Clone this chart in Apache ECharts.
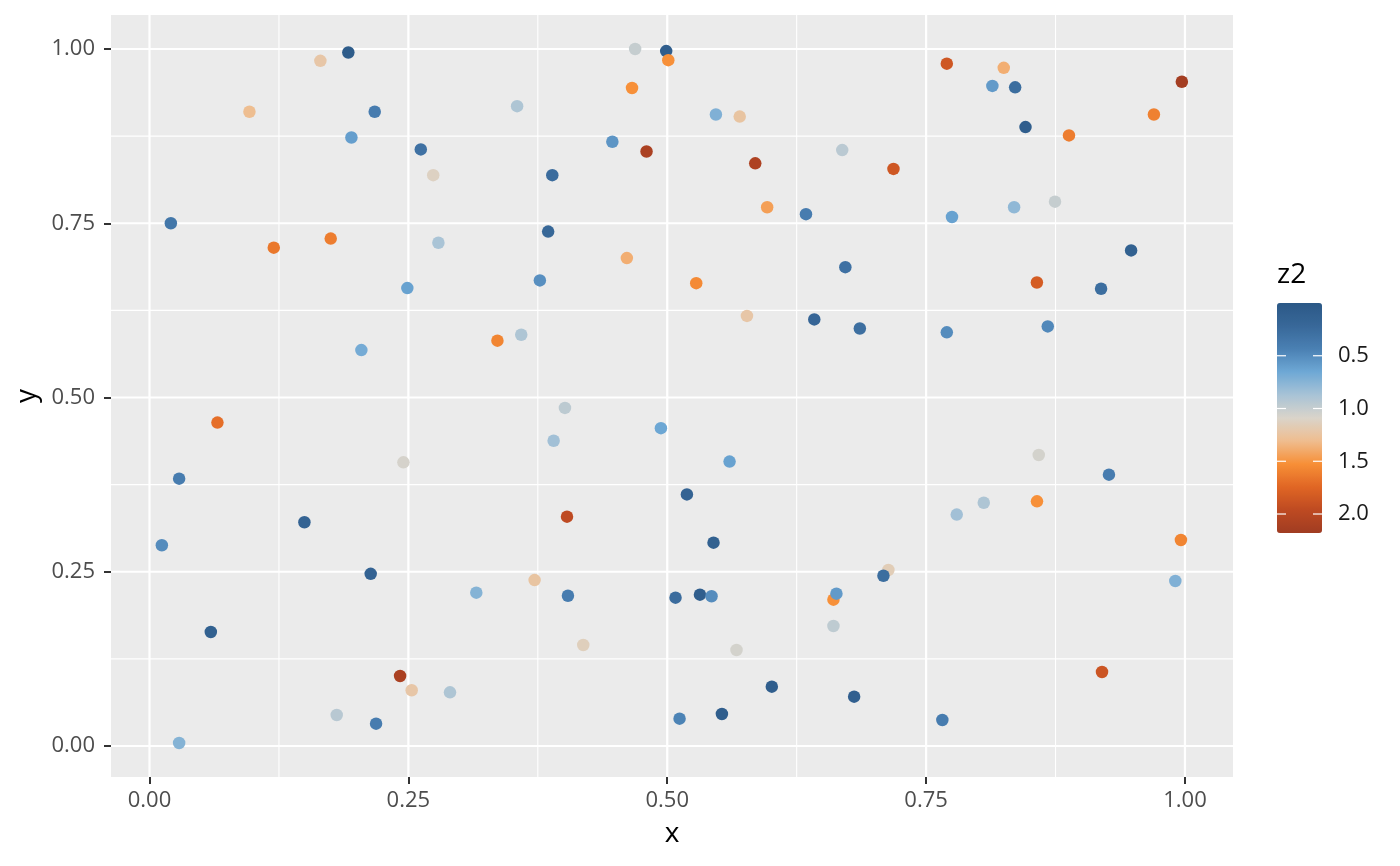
<!DOCTYPE html>
<html>
<head>
<meta charset="utf-8">
<title>z2 scatter</title>
<script src="https://cdn.jsdelivr.net/npm/echarts@6/dist/echarts.min.js"></script>
<style>
  html, body { margin: 0; padding: 0; background: #fff; }
  #chart { width: 1400px; height: 866px; }
</style>
</head>
<body>
<div id="chart"></div>
<script>
// 数据：x, y, z2
const xs = [0.192, 0.165, 0.0965, 0.2175, 0.195, 0.262, 0.274, 0.0206, 0.120, 0.175, 0.279, 0.249, 0.2046,
  0.469, 0.499, 0.501, 0.466, 0.355, 0.547, 0.570, 0.447, 0.480, 0.669, 0.585, 0.389, 0.5965, 0.634, 0.385, 0.461, 0.377, 0.528, 0.672, 0.577, 0.642, 0.686, 0.336, 0.359,
  0.770, 0.825, 0.814, 0.836, 0.997, 0.970, 0.846, 0.888, 0.7185, 0.775, 0.835, 0.8745, 0.948, 0.857, 0.919, 0.770, 0.8675,
  0.0656, 0.2452, 0.0286, 0.1496, 0.0119, 0.2136, 0.3156, 0.0592, 0.242, 0.2532, 0.2902, 0.1808, 0.2188, 0.0286,
  0.4012, 0.3903, 0.4939, 0.5602, 0.519, 0.4032, 0.5447, 0.3719, 0.4041, 0.508, 0.5316, 0.5428, 0.6605, 0.6634, 0.6605, 0.4189, 0.5669, 0.601, 0.6805, 0.5119, 0.5528,
  0.8588, 0.9266, 0.8057, 0.7796, 0.8571, 0.9961, 0.9907, 0.7136, 0.7088, 0.9199, 0.7657];
const ys = [0.995, 0.983, 0.910, 0.910, 0.873, 0.856, 0.819, 0.750, 0.715, 0.728, 0.722, 0.657, 0.568,
  1.000, 0.997, 0.984, 0.944, 0.918, 0.906, 0.903, 0.867, 0.853, 0.855, 0.836, 0.819, 0.773, 0.763, 0.738, 0.700, 0.668, 0.664, 0.687, 0.617, 0.612, 0.599, 0.5815, 0.590,
  0.979, 0.973, 0.947, 0.945, 0.953, 0.906, 0.888, 0.876, 0.828, 0.759, 0.773, 0.781, 0.711, 0.665, 0.656, 0.5935, 0.602,
  0.464, 0.407, 0.3835, 0.321, 0.288, 0.247, 0.220, 0.1636, 0.1004, 0.080, 0.077, 0.0445, 0.032, 0.0043,
  0.485, 0.438, 0.456, 0.408, 0.361, 0.329, 0.2917, 0.238, 0.2156, 0.2128, 0.2171, 0.2148, 0.2099, 0.2185, 0.1722, 0.1449, 0.1377, 0.0851, 0.0708, 0.0392, 0.0459,
  0.4175, 0.3893, 0.349, 0.332, 0.351, 0.2956, 0.2367, 0.2525, 0.2443, 0.1062, 0.0373];
const z2 = [0.05, 1.22, 1.3, 0.4, 0.6, 0.3, 1.12, 0.35, 1.65, 1.62, 0.88, 0.62, 0.68,
  1.0, 0.08, 1.52, 1.52, 0.9, 0.72, 1.24, 0.55, 2.1, 0.95, 2.08, 0.25, 1.45, 0.4, 0.2, 1.38, 0.52, 1.55, 0.3, 1.22, 0.18, 0.28, 1.58, 0.9,
  1.86, 1.38, 0.58, 0.27, 2.15, 1.6, 0.08, 1.62, 1.86, 0.62, 0.78, 1.0, 0.12, 1.82, 0.27, 0.5, 0.48,
  1.7, 1.07, 0.4, 0.15, 0.5, 0.15, 0.74, 0.12, 2.1, 1.22, 0.9, 0.94, 0.4, 0.74,
  0.96, 0.85, 0.65, 0.62, 0.15, 1.96, 0.12, 1.24, 0.4, 0.25, 0.08, 0.5, 1.52, 0.58, 0.97, 1.14, 1.06, 0.08, 0.1, 0.45, 0.08,
  1.06, 0.4, 0.9, 0.85, 1.52, 1.58, 0.72, 1.16, 0.27, 1.88, 0.4];

// 坐标轴刻度
const xBreaks = [0, 0.25, 0.5, 0.75, 1];
const yBreaks = [0, 0.25, 0.5, 0.75, 1];
const xMinor = [0.125, 0.375, 0.625, 0.875];
const yMinor = [0.125, 0.375, 0.625, 0.875];
const xLim = [-0.0372, 1.0464];
const yLim = [-0.0445, 1.0488];

// 图例色带
const zLim = [0, 2.18];
const zBreaks = [0.5, 1.0, 1.5, 2.0];
const zColors = ['#2b5886', '#386899', '#4a80b3', '#6ea8d5', '#a8c3d6', '#dad4ca',
  '#efbd8f', '#f78f37', '#e06624', '#be4a22', '#a03c22'];

const FONT = 'Open Sans';
const legendLeft = 1277, legendTop = 303, legendW = 45, legendH = 230;

const chart = echarts.init(document.getElementById('chart'));

// 网格线用线系列画，保证延伸到面板边缘
const gridSeries = [];
function addGridLine(v, vertical, width) {
  gridSeries.push({
    type: 'line',
    silent: true,
    symbol: 'none',
    animation: false,
    z: 1,
    lineStyle: { color: '#ffffff', width: width },
    data: vertical ? [[v, yLim[0]], [v, yLim[1]]] : [[xLim[0], v], [xLim[1], v]]
  });
}
xMinor.forEach(v => addGridLine(v, true, 1.1));
yMinor.forEach(v => addGridLine(v, false, 1.1));
xBreaks.forEach(v => addGridLine(v, true, 2.2));
yBreaks.forEach(v => addGridLine(v, false, 2.2));

const points = xs.map((x, i) => [x, ys[i], z2[i]]);

// 图例刻度和标签
const legendGraphics = [{
  type: 'text',
  left: legendLeft,
  top: legendTop - 42,
  style: { text: 'z2', fontSize: 28, fontFamily: FONT, fill: '#000' }
}];
zBreaks.forEach(v => {
  const py = legendTop + (v - zLim[0]) / (zLim[1] - zLim[0]) * legendH;
  legendGraphics.push({
    type: 'line', z: 100,
    shape: { x1: legendLeft, y1: py, x2: legendLeft + 9, y2: py },
    style: { stroke: '#fff', lineWidth: 1.2 }
  });
  legendGraphics.push({
    type: 'line', z: 100,
    shape: { x1: legendLeft + legendW - 9, y1: py, x2: legendLeft + legendW, y2: py },
    style: { stroke: '#fff', lineWidth: 1.2 }
  });
  legendGraphics.push({
    type: 'text', z: 100,
    x: legendLeft + legendW + 16, y: py,
    style: { text: v.toFixed(1), fontSize: 22, fontFamily: FONT, fill: '#1a1a1a', verticalAlign: 'middle', align: 'left' }
  });
});

const option = {
  backgroundColor: '#ffffff',
  animation: false,
  textStyle: { fontFamily: FONT },
  grid: {
    left: 111, top: 15, width: 1122, height: 762,
    show: true, backgroundColor: '#ebebeb', borderWidth: 0
  },
  xAxis: {
    type: 'value',
    min: xLim[0], max: xLim[1],
    name: 'x', nameLocation: 'middle', nameGap: 43,
    nameTextStyle: { fontSize: 28, color: '#000', fontFamily: FONT },
    axisLine: { show: false, onZero: false },
    axisTick: { show: true, customValues: xBreaks, length: 7, lineStyle: { color: '#333', width: 2 } },
    axisLabel: { customValues: xBreaks, margin: 13, fontSize: 22, color: '#4d4d4d', fontFamily: FONT,
      formatter: v => v.toFixed(2) },
    splitLine: { show: false }
  },
  yAxis: {
    type: 'value',
    min: yLim[0], max: yLim[1],
    name: 'y', nameLocation: 'middle', nameGap: 67,
    nameTextStyle: { fontSize: 28, color: '#000', fontFamily: FONT },
    axisLine: { show: false, onZero: false },
    axisTick: { show: true, customValues: yBreaks, length: 7, lineStyle: { color: '#333', width: 2 } },
    axisLabel: { customValues: yBreaks, margin: 16, fontSize: 22, color: '#4d4d4d', fontFamily: FONT,
      formatter: v => v.toFixed(2) },
    splitLine: { show: false }
  },
  visualMap: {
    type: 'continuous',
    min: zLim[0], max: zLim[1],
    dimension: 2,
    seriesIndex: gridSeries.length,
    orient: 'vertical',
    inverse: true,
    calculable: false,
    hoverLink: false,
    padding: 0,
    left: legendLeft, top: legendTop,
    itemWidth: legendW, itemHeight: legendH,
    inRange: { color: zColors }
  },
  graphic: legendGraphics,
  series: gridSeries.concat([{
    type: 'scatter',
    z: 5,
    symbolSize: 12.5,
    clip: false,
    itemStyle: { opacity: 1 },
    data: points
  }])
};

chart.setOption(option);
window.addEventListener('resize', () => chart.resize());
</script>
</body>
</html>
